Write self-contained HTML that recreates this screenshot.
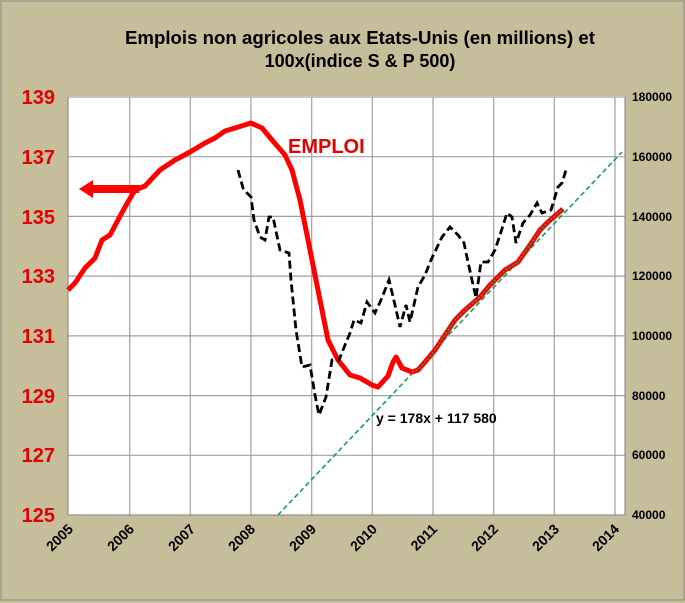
<!DOCTYPE html>
<html><head><meta charset="utf-8"><style>
body{margin:0;background:#fff}
svg{display:block}
text{font-family:"Liberation Sans",sans-serif}
</style></head><body>
<svg width="685" height="603" viewBox="0 0 685 603">
<rect x="0" y="0" width="685" height="603" fill="#c6bd9b"/>
<rect x="1" y="1" width="683" height="599" fill="none" stroke="#8a8a8a" stroke-width="1"/>
<text x="360" y="44" text-anchor="middle" font-size="18" font-weight="bold" textLength="470" lengthAdjust="spacingAndGlyphs">Emplois non agricoles aux Etats-Unis (en millions) et</text>
<text x="360" y="67" text-anchor="middle" font-size="18" font-weight="bold">100x(indice S &amp; P 500)</text>
<rect x="68" y="96" width="557" height="419" fill="#fff"/>
<g stroke="#a0a0a0" stroke-width="1.2">
<line x1="68" y1="97" x2="625" y2="97"/><line x1="68" y1="156.7" x2="625" y2="156.7"/><line x1="68" y1="216.4" x2="625" y2="216.4"/><line x1="68" y1="276.1" x2="625" y2="276.1"/><line x1="68" y1="335.9" x2="625" y2="335.9"/><line x1="68" y1="395.6" x2="625" y2="395.6"/><line x1="68" y1="455.3" x2="625" y2="455.3"/>
<line x1="129.7" y1="97" x2="129.7" y2="515"/><line x1="190.3" y1="97" x2="190.3" y2="515"/><line x1="251" y1="97" x2="251" y2="515"/><line x1="311.7" y1="97" x2="311.7" y2="515"/><line x1="372.3" y1="97" x2="372.3" y2="515"/><line x1="433" y1="97" x2="433" y2="515"/><line x1="493.7" y1="97" x2="493.7" y2="515"/><line x1="554.3" y1="97" x2="554.3" y2="515"/><line x1="615" y1="97" x2="615" y2="515"/>
</g>
<line x1="68" y1="515" x2="625" y2="515" stroke="#808080"/>
<line x1="68" y1="97" x2="68" y2="515" stroke="#808080"/>
<line x1="625" y1="97" x2="625" y2="515" stroke="#808080"/>
<g font-size="20" font-weight="bold" fill="#e30000" text-anchor="end">
<text x="55" y="104">139</text><text x="55" y="164">137</text><text x="55" y="224">135</text><text x="55" y="283">133</text><text x="55" y="343">131</text><text x="55" y="403">129</text><text x="55" y="462">127</text><text x="55" y="522">125</text>
</g>
<g font-size="12" font-weight="bold" fill="#000">
<text x="632" y="101">180000</text><text x="632" y="161">160000</text><text x="632" y="221">140000</text><text x="632" y="280">120000</text><text x="632" y="340">100000</text><text x="632" y="400">80000</text><text x="632" y="459">60000</text><text x="632" y="519">40000</text>
</g>
<g font-size="14" font-weight="bold" text-anchor="end">
<text transform="translate(74,530) rotate(-45)">2005</text>
<text transform="translate(135,530) rotate(-45)">2006</text>
<text transform="translate(196,530) rotate(-45)">2007</text>
<text transform="translate(256,530) rotate(-45)">2008</text>
<text transform="translate(317,530) rotate(-45)">2009</text>
<text transform="translate(378,530) rotate(-45)">2010</text>
<text transform="translate(438,530) rotate(-45)">2011</text>
<text transform="translate(499,530) rotate(-45)">2012</text>
<text transform="translate(560,530) rotate(-45)">2013</text>
<text transform="translate(620,530) rotate(-45)">2014</text>
</g>
<line x1="278" y1="515" x2="622" y2="152" stroke="#1aa050" stroke-width="1.6" stroke-dasharray="5,3"/>
<polyline fill="none" stroke="#ff0000" stroke-width="5" stroke-linejoin="round" points="68,290 75,283 85,268 95,258 102,240 110,235 118,220 125,207 135,190 145,186 160,170 175,160 190,152 205,143 215,138 225,131 235,128 251,123 262,128 272,140 285,155 292,170 300,200 308,240 315,275 320,300 328,340 338,360 350,375 360,378 372,385 378,387 388,376 393,362 396,357 402,368 412,372 418,370 425,362 435,350 445,335 455,320 465,310 480,297 490,285 505,270 518,262 530,245 540,230 548,222 556,215 563,209"/>
<polyline fill="none" stroke="#1aa050" stroke-width="1.6" stroke-dasharray="2,2" points="412,372 418,370 425,362 435,350 445,335 455,320 465,310 480,297 490,285 505,270 518,262 530,245 540,230 548,222 556,215 563,209"/>
<polyline fill="none" stroke="#000" stroke-width="2.8" stroke-dasharray="8,4" points="238,170 243,188 247,193 251,197 254,220 260,237 265,240 269,217 273,217 280,250 289,253 291,280 296,330 302,367 310,365 315,395 319,415 326,397 332,360 339,360 345,345 350,333 354,320 361,323 367,302 375,313 381,300 389,280 395,305 400,327 406,305 410,322 418,287 425,275 431,260 442,237 450,227 458,235 464,243 468,262 472,280 476,298 481,262 488,262 495,250 500,235 507,213 512,217 516,243 523,223 530,215 537,203 542,213 551,210 558,187 562,183 566,170"/>
<polygon points="79,189 93,180 93,185 139,185 139,193 93,193 93,198" fill="#ff0000"/>
<text x="288" y="153" font-size="20" font-weight="bold" fill="#e30000">EMPLOI</text>
<text x="376" y="423" font-size="14" font-weight="bold">y = 178x + 117 580</text>
</svg>
</body></html>
